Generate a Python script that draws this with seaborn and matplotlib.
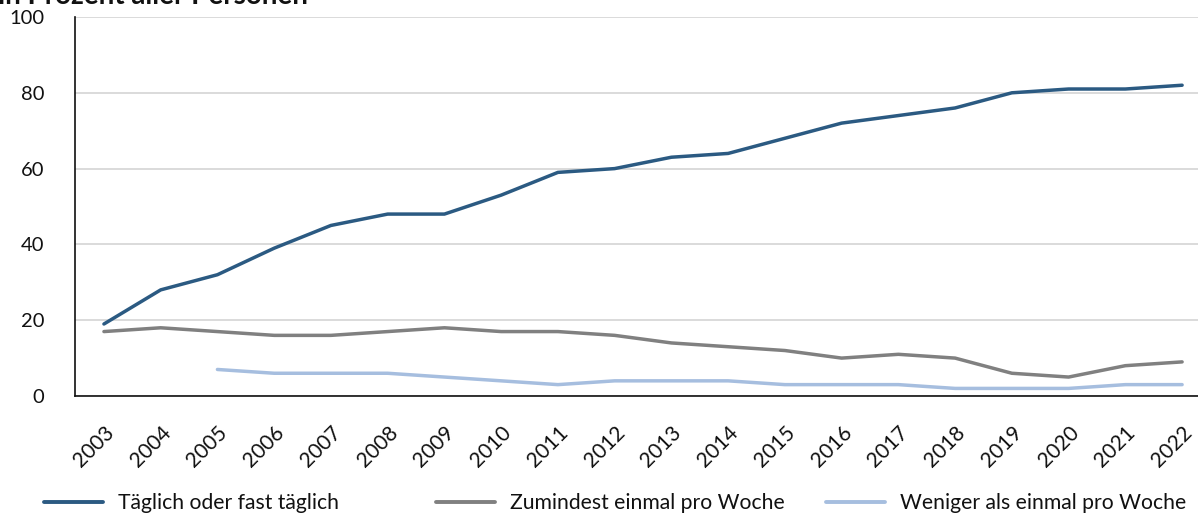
import numpy as np
import pandas as pd
import matplotlib
matplotlib.use("Agg")
import matplotlib.pyplot as plt
import seaborn as sns
from matplotlib.lines import Line2D

years = list(range(2003, 2023))
taeglich = [19, 28, 32, 39, 45, 48, 48, 53, 59, 60, 63, 64, 68, 72, 74, 76, 80, 81, 81, 82]
woche = [17, 18, 17, 16, 16, 17, 18, 17, 17, 16, 14, 13, 12, 10, 11, 10, 6, 5, 8, 9]
weniger = [np.nan, np.nan, 7, 6, 6, 6, 5, 4, 3, 4, 4, 4, 3, 3, 3, 2, 2, 2, 3, 3]
labels = ["Täglich oder fast täglich", "Zumindest einmal pro Woche", "Weniger als einmal pro Woche"]
colors = ["#2b5a82", "#808080", "#a6bedf"]

df = pd.DataFrame({
    "Jahr": years * 3,
    "Wert": taeglich + woche + weniger,
    "Serie": [labels[0]] * 20 + [labels[1]] * 20 + [labels[2]] * 20,
})

sns.set_style("white")
plt.rcParams["font.family"] = ["Lato", "DejaVu Sans"]

fig = plt.figure(figsize=(11.98, 5.15), dpi=100)
ax = fig.add_axes([75 / 1198, 1 - 396 / 515, 1 - 75 / 1198, (396 - 17) / 515])

sns.lineplot(data=df, x="Jahr", y="Wert", hue="Serie", palette=colors,
             hue_order=labels, linewidth=2.5, ax=ax, legend=False)

ax.set_xlim(2002.49, 2022.28)
ax.set_ylim(0, 100)
ax.set_yticks([0, 20, 40, 60, 80, 100])
ax.set_xticks(years)
ax.set_xticklabels([str(y) for y in years], rotation=45, ha="right",
                   rotation_mode="anchor", fontsize=15)
ax.tick_params(axis="y", labelsize=14.5, length=11, width=1.2, color="#222222", pad=11, labelcolor="#111111")
ax.tick_params(axis="x", length=11, width=1.2, color="#222222", pad=8, labelcolor="#111111")
ax.set_xlabel("")
ax.set_ylabel("")
ax.grid(axis="y", color="#d4d4d4", linewidth=1.2)
ax.set_axisbelow(True)
for s in ["top", "right"]:
    ax.spines[s].set_visible(False)
for s in ["left", "bottom"]:
    ax.spines[s].set_color("#111111")
    ax.spines[s].set_linewidth(1.2)

legend_x = [44, 436, 826]
for c, lab, lx in zip(colors, labels, legend_x):
    h = Line2D([], [], color=c, linewidth=2.8)
    fig.legend([h], [lab], loc="center left", bbox_to_anchor=(lx / 1198, 1 - 503 / 515),
               frameon=False, fontsize=15.2, handlelength=2.8, handletextpad=0.7,
               borderaxespad=0, borderpad=0, labelcolor="#111111")

fig.text(-0.002, 0.992, "in Prozent aller Personen", fontsize=20, fontweight="bold",
         ha="left", va="baseline", color="#111111")

fig.savefig("out.png", dpi=100)
